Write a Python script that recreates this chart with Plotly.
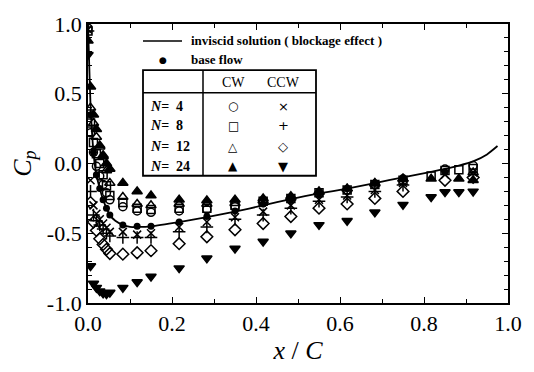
import plotly.graph_objects as go

# ---------------- data ----------------
x_le = [0.0, 0.006, 0.013, 0.02, 0.028, 0.036, 0.044, 0.052]
x_main = [0.083, 0.117, 0.15, 0.217, 0.283, 0.35, 0.417, 0.483, 0.55,
          0.617, 0.683, 0.75, 0.817, 0.85, 0.883, 0.917]
x_st = x_le + x_main

# CW series
cw_n4 = [0.97, 0.22, 0.08, -0.02, -0.09, -0.15, -0.21, -0.26,
         -0.31, -0.34, -0.35, -0.34, -0.33, -0.31, -0.28, -0.255, -0.215,
         -0.19, -0.15, -0.12, None, -0.04, None, -0.015]
cw_n8 = [0.95, 0.29, 0.15, 0.07, 0.0, -0.08, -0.16, -0.23,
         -0.28, -0.32, -0.33, -0.32, -0.32, -0.30, -0.27, -0.25, -0.21,
         -0.19, -0.15, -0.12, -0.09, -0.05, -0.045, -0.035]
cw_n12 = [None, 0.40, 0.29, 0.19, 0.12, 0.05, -0.05, -0.14,
          -0.24, -0.29, -0.30, -0.29, -0.29, -0.285, -0.265, -0.245, -0.205,
          -0.18, -0.145, -0.11, None, None, None, -0.065]
cw_n24 = [0.88, 0.55, 0.35, 0.245, 0.13, 0.06, 0.0, -0.04,
          -0.14, -0.20, -0.23, -0.26, -0.265, -0.26, -0.25, -0.235, -0.20,
          -0.18, -0.14, -0.11, -0.11, None, -0.11, -0.12]
# CCW series
ccw_n4 = [0.96, -0.12, -0.30, -0.36, -0.40, -0.43, -0.46, -0.49,
          -0.49, -0.51, -0.50, -0.455, -0.42, -0.385, -0.345, -0.30, -0.26,
          -0.23, -0.19, -0.14, None, -0.08, None, -0.065]
ccw_n8 = [0.95, -0.20, -0.37, -0.41, -0.44, -0.47, -0.50, -0.52,
          -0.53, -0.53, -0.53, -0.49, -0.455, -0.40, -0.37, -0.32, -0.27,
          -0.24, -0.20, -0.155, None, None, None, None]
ccw_n12 = [None, -0.28, -0.42, -0.48, -0.54, -0.58, -0.615, -0.645,
           -0.65, -0.64, -0.625, -0.575, -0.525, -0.475, -0.43, -0.38, -0.32,
           -0.29, -0.25, -0.20, None, -0.12, None, -0.10]
ccw_n24 = [0.78, -0.735, -0.86, -0.89, -0.915, -0.93, -0.935, -0.925,
           -0.89, -0.85, -0.81, -0.75, -0.68, -0.61, -0.56, -0.50, -0.44,
           -0.41, -0.35, -0.295, -0.24, -0.205, -0.205, -0.20]
# base flow
base_flow = [None, 0.35, 0.08, -0.08, -0.18, -0.26, -0.32, -0.37,
             -0.44, -0.45, -0.45, -0.42, -0.38, -0.34, -0.29, -0.255, -0.215,
             -0.18, -0.14, -0.10, None, -0.06, None, None]

# inviscid solution
inv_x = [0, 0.003, 0.006, 0.01, 0.015, 0.02, 0.028, 0.036, 0.044, 0.052, 0.065,
         0.083, 0.1, 0.117, 0.15, 0.217, 0.283, 0.35, 0.417, 0.483, 0.55, 0.617,
         0.683, 0.75, 0.817, 0.883, 0.917, 0.95, 0.975]
inv_cp = [1.0, 0.7, 0.42, 0.2, 0.02, -0.08, -0.18, -0.26, -0.32, -0.37, -0.41,
          -0.44, -0.455, -0.455, -0.45, -0.42, -0.385, -0.345, -0.30, -0.255,
          -0.215, -0.18, -0.14, -0.10, -0.06, -0.015, 0.015, 0.065, 0.125]

x_ticks = [0.0, 0.2, 0.4, 0.6, 0.8, 1.0]
x_ticktext = ["0.0", "0.2", "0.4", "0.6", "0.8", "1.0"]
y_ticks = [-1.0, -0.5, 0.0, 0.5, 1.0]
y_ticktext = ["-1.0", "-0.5", "0.0", "0.5", "1.0"]

row_labels = ["<i>N</i>=  4", "<i>N</i>=  8", "<i>N</i>=  12", "<i>N</i>=  24"]
cw_glyphs = ["○", "□", "△", "▲"]
ccw_glyphs = ["×", "+", "◇", "▼"]

FONT = "Liberation Serif"

fig = go.Figure()
fig.add_trace(go.Scatter(x=inv_x, y=inv_cp, mode="lines",
                         line=dict(color="black", width=1.8, shape="spline",
                                   smoothing=0.6),
                         showlegend=False))

ser = [
    (cw_n4, "circle-open", 8),
    (cw_n8, "square-open", 8),
    (cw_n12, "triangle-up-open", 9),
    (cw_n24, "triangle-up", 9),
    (ccw_n4, "x-thin-open", 8),
    (ccw_n8, "cross-thin-open", 9),
    (ccw_n12, "diamond-open", 9),
    (ccw_n24, "triangle-down", 9),
]
for vals, sym, sz in ser:
    fig.add_trace(go.Scatter(x=x_st, y=vals, mode="markers",
                             marker=dict(symbol=sym, size=sz, color="black",
                                         line=dict(color="black", width=1.5)),
                             showlegend=False))
fig.add_trace(go.Scatter(x=x_st, y=base_flow, mode="markers",
                         marker=dict(symbol="circle", size=7, color="black"),
                         showlegend=False))

# --------------- legend (drawn) ---------------
L, R, T, B = 88, 508, 15, 311
def px(v):
    return (v - L) / (R - L)
def py(v):
    return (B - v) / (B - T)

shapes = [
    dict(type="line", xref="paper", yref="paper", x0=px(143), x1=px(182),
         y0=py(33), y1=py(33), line=dict(color="black", width=1.5)),
    dict(type="rect", xref="paper", yref="paper", x0=px(143), x1=px(316),
         y0=py(176), y1=py(64), line=dict(color="black", width=1.8)),
    dict(type="line", xref="paper", yref="paper", x0=px(143), x1=px(316),
         y0=py(88), y1=py(88), line=dict(color="black", width=1.5)),
    dict(type="line", xref="paper", yref="paper", x0=px(203), x1=px(203),
         y0=py(176), y1=py(64), line=dict(color="black", width=1.5)),
]
ann = [
    dict(text="<b>inviscid solution ( blockage effect )</b>", x=px(189), y=py(33),
         xanchor="left", yanchor="middle", font=dict(size=13)),
    dict(text="●", x=px(163), y=py(53), xanchor="center", yanchor="middle",
         font=dict(size=9, family="DejaVu Sans")),
    dict(text="<b>base flow</b>", x=px(189), y=py(53), xanchor="left",
         yanchor="middle", font=dict(size=13)),
    dict(text="CW", x=px(233), y=py(77), xanchor="center", yanchor="middle",
         font=dict(size=14)),
    dict(text="CCW", x=px(283), y=py(77), xanchor="center", yanchor="middle",
         font=dict(size=14)),
]
row_y = [102, 123, 145, 166]
for lab, g1, g2, yy in zip(row_labels, cw_glyphs, ccw_glyphs, row_y):
    ann.append(dict(text="<b>" + lab + "</b>", x=px(148), y=py(yy), xanchor="left",
                    yanchor="middle", font=dict(size=14)))
    ann.append(dict(text=g1, x=px(233), y=py(yy), xanchor="center",
                    yanchor="middle", font=dict(size=12, family="DejaVu Sans")))
    ann.append(dict(text=g2, x=px(283), y=py(yy), xanchor="center",
                    yanchor="middle", font=dict(size=13, family="DejaVu Sans")))
for a in ann:
    a.update(xref="paper", yref="paper", showarrow=False)
    a["font"].setdefault("family", FONT)
    a["font"]["color"] = "black"

fig.update_layout(
    width=534, height=372,
    margin=dict(l=L, r=534 - R, t=T, b=372 - B),
    paper_bgcolor="white", plot_bgcolor="white",
    font=dict(family=FONT, color="black"),
    shapes=shapes, annotations=ann,
    xaxis=dict(range=[0, 1.0], tickvals=x_ticks, ticktext=x_ticktext,
               ticks="inside", ticklen=6, tickwidth=1.3, tickcolor="black",
               minor=dict(dtick=0.1, ticks="inside", ticklen=4, tickcolor="black"),
               showline=True, linecolor="black", linewidth=1.8, mirror="allticks",
               showgrid=False, zeroline=False,
               tickfont=dict(size=22, family=FONT),
               title=dict(text="<i>x</i> / <i>C</i>", font=dict(size=26, family=FONT),
                          standoff=6)),
    yaxis=dict(range=[-1.0, 1.0], tickvals=y_ticks, ticktext=y_ticktext,
               ticks="inside", ticklen=6, tickwidth=1.3, tickcolor="black",
               minor=dict(dtick=0.1, ticks="inside", ticklen=4, tickcolor="black"),
               showline=True, linecolor="black", linewidth=1.8, mirror="allticks",
               showgrid=False, zeroline=False,
               tickfont=dict(size=22, family=FONT),
               title=dict(text="<i>C</i><sub><i>p</i></sub>",
                          font=dict(size=26, family=FONT), standoff=8)),
)
fig.write_html("out.html")
